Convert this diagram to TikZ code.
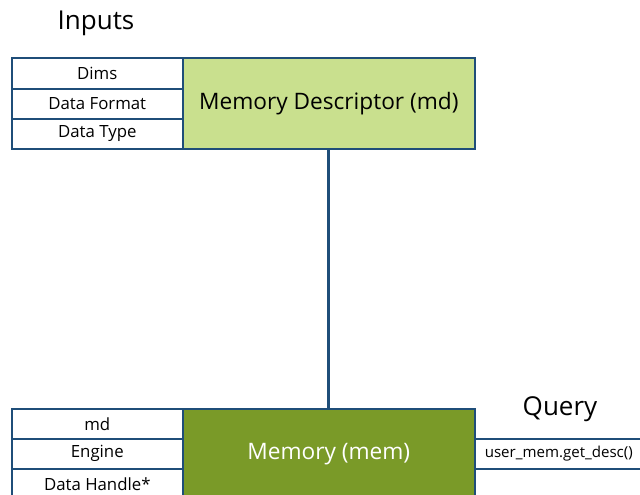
\documentclass[tikz,border=0pt]{standalone}
\usepackage{fontspec}
\setmainfont{Open Sans}
\definecolor{edge}{HTML}{1F4E79}
\definecolor{mdfill}{HTML}{C9E08E}
\definecolor{memfill}{HTML}{7A9A28}
\begin{document}
\begin{tikzpicture}[x=0.75pt,y=-0.75pt,
  cell/.style={draw=edge,line width=1.2pt,fill=white,minimum width=171*0.75pt,minimum height=30*0.75pt,inner sep=0pt,font=\fontsize{12.6}{14}\selectfont,anchor=north west},
  big/.style={draw=edge,line width=1.2pt,inner sep=0pt,anchor=north west,minimum width=292*0.75pt,font=\fontsize{17}{20}\selectfont},
  head/.style={font=\fontsize{19.5}{22}\selectfont}]
\useasboundingbox (0,0) rectangle (640,494);
\begin{scope}
\clip (0,0) rectangle (640,494);
% memory descriptor and its inputs
\node[big,fill=mdfill,minimum height=91*0.75pt] (md) at (182,57) {Memory Descriptor (md)};
\node[cell,minimum height=31*0.75pt] (dims) at (11,57) {Dims};
\node[cell] (fmt) at (11,88) {Data Format};
\node[cell] (dtype) at (11,118) {Data Type};
\node[head] (inputs) at (96,23) {Inputs};
% memory object and its inputs
\node[big,fill=memfill,text=white,minimum height=91*0.75pt] (mem) at (182,408) {Memory (mem)};
\node[cell] (mdin) at (11,408) {md};
\node[cell] (engine) at (11,438) {Engine};
\node[cell] (handle) at (11,468) {Data Handle*};
% query
\node[cell,minimum width=180*0.75pt,font=\fontsize{11.3}{13}\selectfont,text width=170*0.75pt,align=left,inner xsep=10*0.75pt] (query) at (474,438) {user\_mem.get\_desc()};
\node[head] (qhead) at (560,409) {Query};
% link between the two objects
\draw[edge,line width=2pt] (md.south) -- (mem.north);
\end{scope}
\end{tikzpicture}
\end{document}
